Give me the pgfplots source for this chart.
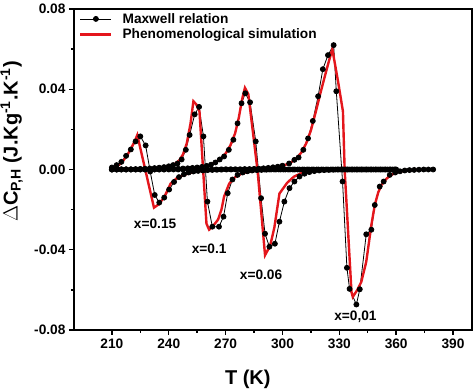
\documentclass[border=0pt]{standalone}
\usepackage{pgfplots}
\pgfplotsset{compat=1.18}
\usepackage{fontspec}
\setmainfont{Liberation Sans}
\definecolor{simred}{RGB}{228,22,28}
\begin{document}
\begin{tikzpicture}
\begin{axis}[
  scale only axis, width=398pt, height=321pt,
  xmin=190, xmax=400, ymin=-0.08, ymax=0.08,
  xtick={210,240,270,300,330,360,390},
  xticklabels={210,240,270,300,330,360,390},
  ytick={-0.08,-0.04,0,0.04,0.08},
  yticklabels={-0.08,-0.04,0.00,0.04,0.08},
  minor x tick num=1, minor y tick num=1,
  xtick pos=left, ytick pos=left,
  tick align=outside,
  major tick length=5pt, minor tick length=3pt,
  every tick/.style={black, line width=1.4pt},
  axis line style={line width=1.8pt},
  ticklabel style={font=\fontsize{13.7}{16}\selectfont\bfseries},
  xlabel={T (K)},
  ylabel={$\Delta$C\textsubscript{P,H} (J.Kg\textsuperscript{-1}.K\textsuperscript{-1})},
  xlabel style={at={(axis cs:281.7,-0.1045)}, anchor=center, font=\fontsize{20}{24}\selectfont\bfseries},
  ylabel style={at={(axis cs:157.1,0.014)}, anchor=center, font=\fontsize{20}{24}\selectfont\bfseries},
  legend style={draw=none, fill=none, at={(axis description cs:0,1)}, anchor=north west,
    xshift=2pt, yshift=0pt, font=\fontsize{13.7}{16}\selectfont\bfseries,
    row sep=0pt, column sep=8pt,
    legend image code/.code={\draw[mark repeat=2,mark phase=2,#1] plot coordinates {(0pt,0pt)(15.5pt,0pt)(31pt,0pt)};}},
  legend cell align=left,
]
\addplot[black, line width=0.8pt, mark=*, mark size=2.5pt, mark options={solid, fill=black}] coordinates {
(210,0.0010)(212.5,0.0022)(215,0.0038)(217.5,0.0068)(220,0.0100)(222.5,0.0140)(225,0.0165)(227.8,0.0120)(230.2,-0.0010)(232.6,-0.0127)(235,-0.0165)(237.6,-0.0140)(240.2,-0.0100)(242.8,-0.0062)(245.4,-0.0038)(248,-0.0024)(250.5,-0.0015)(253,-0.0010)(255.5,-0.0007)(258,-0.0005)(260.5,-0.0003)(263,-0.0002)(265.5,-0.0001)(268,0)(270.5,0)(273,0)(275.5,0)(278,0)(280.5,0)(283,0)(285.5,0)(288,0)(290.5,0)(293,0)(295.5,0)(298,0)(300.5,0)(303,0)(305.5,0)(308,0)(310.5,0)(313,0)(315.5,0)(318,0)(320.5,0)(323,0)(325.5,0)(328,0)(330.5,0)(333,0)(335.5,0)(338,0)(340.5,0)(343,0)(345.5,0)(348,0)(350.5,0)(353,0)(355.5,0)(358,0)(360,0)
};
\addlegendentry{Maxwell relation}
\addplot[simred, line width=2.4pt] coordinates {
(210,0.0005)(212,0.0012)(214,0.0025)(216,0.0045)(218,0.0070)(220,0.0103)(222,0.0140)(223.4,0.0172)(232.2,-0.0190)(234.5,-0.0175)(237.5,-0.0140)(239.5,-0.0100)(241,-0.0070)(244,-0.0045)(248,-0.0027)(252,-0.0015)(256,-0.0008)(260,-0.0004)(266,-0.0001)(275,0)(360,0)
};
\addlegendentry{Phenomenological simulation}
\addplot[black, line width=0.8pt, mark=*, mark size=2.5pt, mark options={solid, fill=black}, forget plot] coordinates {
(210,0)(212.5,0)(215,0.0001)(217.5,0.0001)(220,0.0001)(222.5,0.0002)(225,0.0003)(227.5,0.0004)(230,0.0005)(232.5,0.0007)(235,0.0009)(237.5,0.0012)(240,0.0016)(242.3,0.0022)(244.6,0.0030)(246.8,0.0050)(249,0.0098)(251,0.0172)(253.7,0.0275)(256,0.0312)(258.3,0.0165)(260.4,-0.0160)(263,-0.0285)(266.5,-0.0285)(268.9,-0.0235)(271.1,-0.0118)(273.6,-0.0050)(276.3,-0.0027)(279,-0.0015)(281.5,-0.0009)(284,-0.0005)(286.5,-0.0003)(289,-0.0002)(291.5,-0.0001)(294,0)(296.5,0)(299,0)(301.5,0)(304,0)(306.5,0)(309,0)(311.5,0)(314,0)(316.5,0)(319,0)(321.5,0)(324,0)(326.5,0)(329,0)(331.5,0)(334,0)(336.5,0)(339,0)(341.5,0)(344,0)(346.5,0)(349,0)(351.5,0)(354,0)(356.5,0)(359,0)
};
\addplot[simred, line width=2.4pt, forget plot] coordinates {
(210,0.0001)(225,0.0004)(235,0.0009)(240,0.0016)(243,0.0026)(245.5,0.0045)(247.5,0.0075)(249.5,0.0130)(251.5,0.0230)(253,0.0340)(254.5,0.0325)(256.2,0.0290)(259.9,-0.0270)(261.3,-0.0300)(263.5,-0.0280)(266,-0.0250)(267.8,-0.0200)(269.2,-0.0135)(271.9,-0.0070)(275,-0.0038)(279,-0.0018)(284,-0.0008)(290,-0.0003)(300,-0.0001)(310,0)(360,0)
};
\addplot[black, line width=0.8pt, mark=*, mark size=2.5pt, mark options={solid, fill=black}, forget plot] coordinates {
(210,0)(212.5,0)(215,0)(217.5,0)(220,0)(222.5,0)(225,0)(227.5,0)(230,0)(232.5,0)(235,0)(237.5,0)(240,0.0002)(242.5,0.0003)(245,0.0004)(247.5,0.0005)(250,0.0006)(252.5,0.0008)(255,0.0010)(257.5,0.0013)(260,0.0018)(262.3,0.0024)(264.6,0.0035)(266.9,0.0050)(269.2,0.0065)(271.7,0.0098)(274.1,0.0148)(276.3,0.0230)(278.4,0.0330)(280.4,0.0380)(282.9,0.0335)(285.9,0.0140)(288.7,-0.0143)(290.8,-0.0320)(293.1,-0.0385)(296,-0.0370)(298.4,-0.0260)(301,-0.0160)(303.7,-0.0093)(306.3,-0.0060)(309,-0.0035)(311.6,-0.0021)(314.2,-0.0013)(316.8,-0.0008)(319.4,-0.0005)(322,-0.0003)(324.5,-0.0002)(327,-0.0001)(329.5,0)(332,0)(334.5,0)(337,0)(339.5,0)(342,0)(344.5,0)(347,0)(349.5,0)(352,0)(354.5,0)(357,0)(359.5,0)
};
\addplot[simred, line width=2.4pt, forget plot] coordinates {
(210,0)(240,0.0002)(250,0.0005)(256,0.0010)(261,0.0020)(264.5,0.0035)(267.5,0.0055)(270,0.0080)(272.5,0.0120)(275,0.0180)(277,0.0260)(278.7,0.0350)(280.2,0.0407)(282,0.0375)(286.9,-0.0010)(290.8,-0.0427)(293.5,-0.0380)(295.7,-0.0290)(298.4,-0.0120)(302.5,-0.0066)(306,-0.0036)(310,-0.0018)(315,-0.0008)(320,-0.0004)(328,-0.0001)(340,0)(360,0)
};
\addplot[black, line width=0.8pt, mark=*, mark size=2.5pt, mark options={solid, fill=black}, forget plot] coordinates {
(210,0)(212.5,0)(215,0)(217.5,0)(220,0)(222.5,0)(225,0)(227.5,0)(230,0)(232.5,0)(235,0)(237.5,0)(240,0)(242.5,0)(245,0)(247.5,0)(250,0)(252.5,0)(255,0)(257.5,0)(260,0)(262.5,0)(265,0)(267.5,0)(270,0.0001)(272.5,0.0001)(275,0.0001)(277.5,0.0001)(280,0.0002)(282.5,0.0002)(285,0.0003)(287.5,0.0004)(290,0.0006)(292.5,0.0008)(295,0.0011)(297.5,0.0014)(300,0.0019)(303.5,0.0030)(306.3,0.0048)(308.5,0.0060)(311,0.0098)(313.5,0.0155)(316,0.0242)(318.8,0.0365)(321.3,0.0500)(324,0.0570)(327,0.0620)(328.4,0.0390)(331.7,-0.0060)(334,-0.0490)(335.4,-0.0595)(339,-0.0673)(340.8,-0.0597)(344.2,-0.0323)(346.9,-0.0300)(348.7,-0.0177)(351.3,-0.0085)(353.4,-0.0060)(356.6,-0.0027)(359.5,-0.0015)(362,-0.0009)(364.5,-0.0005)(367,-0.0003)(369.5,-0.0002)(372,-0.0001)(374.5,0)(377,0)(379.5,0)
};
\addplot[simred, line width=2.4pt, forget plot] coordinates {
(210,0)(280,0.0002)(290,0.0006)(296,0.0012)(300,0.0018)(304,0.0032)(307,0.0052)(310,0.0085)(312.5,0.0130)(315,0.0195)(317.5,0.0285)(320,0.0380)(322.5,0.0470)(324.5,0.0540)(326.3,0.0600)(329.3,0.0440)(331.9,0.0290)(332.8,0.0000)(336.4,-0.0610)(337.1,-0.0635)(339.5,-0.0600)(341.6,-0.0560)(344.2,-0.0460)(346.9,-0.0277)(348.7,-0.0177)(350.5,-0.0115)(352.2,-0.0077)(355,-0.0045)(357.4,-0.0027)(361,-0.0012)(365,-0.0005)(370,-0.0002)(375,0)(380,0)
};
\node[font=\fontsize{13.7}{16}\selectfont\bfseries] at (axis cs:232.8,-0.0273) {x=0.15};
\node[font=\fontsize{13.7}{16}\selectfont\bfseries] at (axis cs:261.3,-0.0397) {x=0.1};
\node[font=\fontsize{13.7}{16}\selectfont\bfseries] at (axis cs:288.7,-0.0527) {x=0.06};
\node[font=\fontsize{13.7}{16}\selectfont\bfseries] at (axis cs:338.5,-0.0732) {x=0,01};
\end{axis}
\pgfresetboundingbox
\path[use as bounding box] (-74pt,-60pt) rectangle (400pt,330pt);
\end{tikzpicture}
\end{document}
